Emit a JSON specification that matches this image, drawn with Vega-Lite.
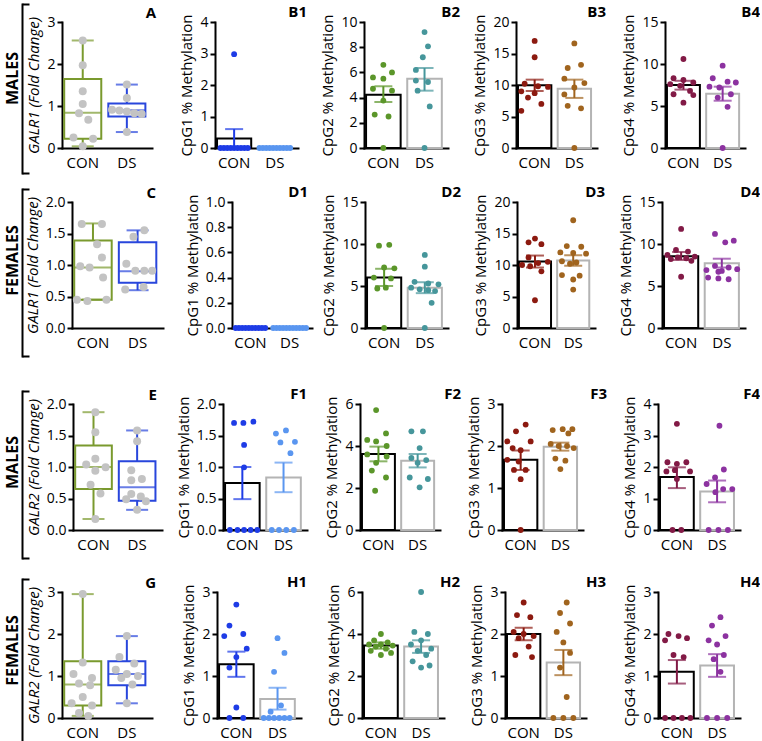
{
"$schema":"https://vega.github.io/schema/vega-lite/v6.json",
"background":"white",
"padding":{"left":4,"top":3,"right":0,"bottom":0},
"config":{
 "view":{"stroke":null},
 "font":"Open Sans",
 "axis":{"domainColor":"#000","domainWidth":2,"domainCap":"square","tickColor":"#000","tickWidth":2,"tickSize":5,"labelFontSize":14,"labelColor":"#000","labelPadding":2,"titleFontSize":15,"titleFontWeight":"normal","titleColor":"#000","titlePadding":5,"grid":false,"labelFont":"Open Sans","titleFont":"Open Sans"},
 "axisX":{"ticks":false,"labelAngle":0,"labelPadding":7,"labelFontSize":15},
 "title":{"fontSize":15,"fontWeight":"bold","anchor":"end","frame":"group","color":"#000","offset":-6,"font":"Open Sans"}
},
"datasets":{
"sm":[
{"p":"B1","g":"CON","m":0.3,"lo":0,"hi":0.6},{"p":"B1","g":"DS","m":0,"lo":0,"hi":0},
{"p":"B2","g":"CON","m":4.23,"lo":3.65,"hi":4.9},{"p":"B2","g":"DS","m":5.5,"lo":4.55,"hi":6.35},
{"p":"B3","g":"CON","m":9.95,"lo":9.05,"hi":10.85},{"p":"B3","g":"DS","m":9.4,"lo":7.95,"hi":10.85},
{"p":"B4","g":"CON","m":7.5,"lo":6.95,"hi":8.0},{"p":"B4","g":"DS","m":6.47,"lo":5.63,"hi":7.3},
{"p":"D1","g":"CON","m":0,"lo":0,"hi":0},{"p":"D1","g":"DS","m":0,"lo":0,"hi":0},
{"p":"D2","g":"CON","m":6.0,"lo":5.0,"hi":7.05},{"p":"D2","g":"DS","m":4.8,"lo":4.15,"hi":5.45},
{"p":"D3","g":"CON","m":10.55,"lo":9.6,"hi":11.5},{"p":"D3","g":"DS","m":10.7,"lo":9.9,"hi":11.55},
{"p":"D4","g":"CON","m":8.55,"lo":8.1,"hi":9.05},{"p":"D4","g":"DS","m":7.7,"lo":7.2,"hi":8.25},
{"p":"F1","g":"CON","m":0.745,"lo":0.49,"hi":1.0},{"p":"F1","g":"DS","m":0.835,"lo":0.6,"hi":1.07},
{"p":"F2","g":"CON","m":3.62,"lo":3.27,"hi":3.97},{"p":"F2","g":"DS","m":3.3,"lo":2.98,"hi":3.62},
{"p":"F3","g":"CON","m":1.67,"lo":1.43,"hi":1.89},{"p":"F3","g":"DS","m":1.98,"lo":1.89,"hi":2.08},
{"p":"F4","g":"CON","m":1.68,"lo":1.33,"hi":1.99},{"p":"F4","g":"DS","m":1.22,"lo":0.88,"hi":1.57},
{"p":"H1","g":"CON","m":1.28,"lo":0.98,"hi":1.58},{"p":"H1","g":"DS","m":0.45,"lo":0.2,"hi":0.72},
{"p":"H2","g":"CON","m":3.45,"lo":3.3,"hi":3.6},{"p":"H2","g":"DS","m":3.4,"lo":3.1,"hi":3.7},
{"p":"H3","g":"CON","m":2.0,"lo":1.85,"hi":2.15},{"p":"H3","g":"DS","m":1.32,"lo":1.02,"hi":1.62},
{"p":"H4","g":"CON","m":1.1,"lo":0.82,"hi":1.38},{"p":"H4","g":"DS","m":1.25,"lo":0.98,"hi":1.52}
],
"bx":[
{"p":"A","g":"CON","lo":0.04,"q1":0.22,"md":0.84,"q3":1.64,"hi":2.56},{"p":"A","g":"DS","lo":0.38,"q1":0.75,"md":0.9,"q3":1.06,"hi":1.51},
{"p":"C","g":"CON","lo":0.45,"q1":0.45,"md":0.96,"q3":1.39,"hi":1.66},{"p":"C","g":"DS","lo":0.6,"q1":0.72,"md":0.9,"q3":1.36,"hi":1.55},
{"p":"E","g":"CON","lo":0.175,"q1":0.65,"md":1.0,"q3":1.34,"hi":1.87},{"p":"E","g":"DS","lo":0.32,"q1":0.465,"md":0.68,"q3":1.09,"hi":1.58},
{"p":"G","g":"CON","lo":0.05,"q1":0.3,"md":0.8,"q3":1.35,"hi":2.95},{"p":"G","g":"DS","lo":0.35,"q1":0.78,"md":1.05,"q3":1.35,"hi":1.95}
],
"pts":[
{"p":"A","g":"CON","v":2.56,"k":0},{"p":"A","g":"CON","v":1.97,"k":0},{"p":"A","g":"CON","v":1.35,"k":0},{"p":"A","g":"CON","v":1.05,"k":0},{"p":"A","g":"CON","v":0.83,"k":-1},{"p":"A","g":"CON","v":0.67,"k":1.5},{"p":"A","g":"CON","v":0.25,"k":-2.5},{"p":"A","g":"CON","v":0.22,"k":2.8},{"p":"A","g":"CON","v":0.04,"k":0},
{"p":"A","g":"DS","v":1.51,"k":0},{"p":"A","g":"DS","v":1.19,"k":0},{"p":"A","g":"DS","v":0.91,"k":-4},{"p":"A","g":"DS","v":0.89,"k":-2},{"p":"A","g":"DS","v":0.87,"k":0},{"p":"A","g":"DS","v":0.83,"k":2},{"p":"A","g":"DS","v":0.81,"k":4},{"p":"A","g":"DS","v":0.38,"k":0},
{"p":"B1","g":"CON","v":2.98,"k":0},{"p":"B1","g":"CON","v":0,"k":-4},{"p":"B1","g":"CON","v":0,"k":-3},{"p":"B1","g":"CON","v":0,"k":-2},{"p":"B1","g":"CON","v":0,"k":-1},{"p":"B1","g":"CON","v":0,"k":0},{"p":"B1","g":"CON","v":0,"k":1},{"p":"B1","g":"CON","v":0,"k":2},{"p":"B1","g":"CON","v":0,"k":3},{"p":"B1","g":"CON","v":0,"k":4},
{"p":"B1","g":"DS","v":0,"k":-4.5},{"p":"B1","g":"DS","v":0,"k":-3.5},{"p":"B1","g":"DS","v":0,"k":-2.5},{"p":"B1","g":"DS","v":0,"k":-1.5},{"p":"B1","g":"DS","v":0,"k":-0.5},{"p":"B1","g":"DS","v":0,"k":0.5},{"p":"B1","g":"DS","v":0,"k":1.5},{"p":"B1","g":"DS","v":0,"k":2.5},{"p":"B1","g":"DS","v":0,"k":3.5},{"p":"B1","g":"DS","v":0,"k":4.5},
{"p":"B2","g":"CON","v":6.6,"k":0},{"p":"B2","g":"CON","v":5.6,"k":-3},{"p":"B2","g":"CON","v":6.0,"k":2.5},{"p":"B2","g":"CON","v":5.5,"k":0},{"p":"B2","g":"CON","v":4.7,"k":-3},{"p":"B2","g":"CON","v":4.55,"k":2.5},{"p":"B2","g":"CON","v":3.76,"k":0},{"p":"B2","g":"CON","v":2.65,"k":-2.5},{"p":"B2","g":"CON","v":2.5,"k":1.5},{"p":"B2","g":"CON","v":0,"k":0},
{"p":"B2","g":"DS","v":9.2,"k":0},{"p":"B2","g":"DS","v":8.07,"k":1},{"p":"B2","g":"DS","v":7.2,"k":-0.5},{"p":"B2","g":"DS","v":6.2,"k":-2.5},{"p":"B2","g":"DS","v":5.35,"k":-2.5},{"p":"B2","g":"DS","v":5.24,"k":1},{"p":"B2","g":"DS","v":4.55,"k":-2},{"p":"B2","g":"DS","v":3.3,"k":1.5},{"p":"B2","g":"DS","v":0,"k":0},
{"p":"B3","g":"CON","v":17.0,"k":0},{"p":"B3","g":"CON","v":14.4,"k":0},{"p":"B3","g":"CON","v":10.2,"k":-3},{"p":"B3","g":"CON","v":9.8,"k":1},{"p":"B3","g":"CON","v":9.7,"k":4},{"p":"B3","g":"CON","v":9.0,"k":-4},{"p":"B3","g":"CON","v":8.7,"k":0},{"p":"B3","g":"CON","v":8.0,"k":-2},{"p":"B3","g":"CON","v":7.0,"k":2},{"p":"B3","g":"CON","v":5.9,"k":-4},
{"p":"B3","g":"DS","v":16.6,"k":0},{"p":"B3","g":"DS","v":13.2,"k":2},{"p":"B3","g":"DS","v":12.7,"k":-2},{"p":"B3","g":"DS","v":11.0,"k":-3},{"p":"B3","g":"DS","v":10.3,"k":3},{"p":"B3","g":"DS","v":9.6,"k":0},{"p":"B3","g":"DS","v":8.5,"k":-3},{"p":"B3","g":"DS","v":6.7,"k":-2},{"p":"B3","g":"DS","v":6.3,"k":2},{"p":"B3","g":"DS","v":0,"k":0},
{"p":"B4","g":"CON","v":10.6,"k":0},{"p":"B4","g":"CON","v":8.3,"k":-3},{"p":"B4","g":"CON","v":8.1,"k":0},{"p":"B4","g":"CON","v":7.8,"k":3},{"p":"B4","g":"CON","v":7.6,"k":-4},{"p":"B4","g":"CON","v":7.4,"k":-1},{"p":"B4","g":"CON","v":6.8,"k":2},{"p":"B4","g":"CON","v":6.4,"k":-3},{"p":"B4","g":"CON","v":6.3,"k":3},{"p":"B4","g":"CON","v":5.4,"k":0},
{"p":"B4","g":"DS","v":9.8,"k":0},{"p":"B4","g":"DS","v":8.3,"k":-3},{"p":"B4","g":"DS","v":7.9,"k":1.5},{"p":"B4","g":"DS","v":7.8,"k":4},{"p":"B4","g":"DS","v":7.3,"k":-4},{"p":"B4","g":"DS","v":7.2,"k":-1},{"p":"B4","g":"DS","v":6.4,"k":2.5},{"p":"B4","g":"DS","v":6.0,"k":-1.5},{"p":"B4","g":"DS","v":4.9,"k":1.5},{"p":"B4","g":"DS","v":0,"k":0},
{"p":"C","g":"CON","v":1.65,"k":-3},{"p":"C","g":"CON","v":1.65,"k":2.4},{"p":"C","g":"CON","v":1.33,"k":1.1},{"p":"C","g":"CON","v":1.12,"k":2.4},{"p":"C","g":"CON","v":0.98,"k":-3.4},{"p":"C","g":"CON","v":0.96,"k":-0.9},{"p":"C","g":"CON","v":0.8,"k":2.7},{"p":"C","g":"CON","v":0.45,"k":-4.3},{"p":"C","g":"CON","v":0.43,"k":-1.5},{"p":"C","g":"CON","v":0.45,"k":3.6},
{"p":"C","g":"DS","v":1.55,"k":1.8},{"p":"C","g":"DS","v":1.45,"k":-1.1},{"p":"C","g":"DS","v":1.02,"k":-3},{"p":"C","g":"DS","v":0.91,"k":-0.6},{"p":"C","g":"DS","v":0.91,"k":1.8},{"p":"C","g":"DS","v":0.91,"k":3.9},{"p":"C","g":"DS","v":0.61,"k":-3.3},{"p":"C","g":"DS","v":0.65,"k":1.6},
{"p":"D1","g":"CON","v":0,"k":-4.5},{"p":"D1","g":"CON","v":0,"k":-3.5},{"p":"D1","g":"CON","v":0,"k":-2.5},{"p":"D1","g":"CON","v":0,"k":-1.5},{"p":"D1","g":"CON","v":0,"k":-0.5},{"p":"D1","g":"CON","v":0,"k":0.5},{"p":"D1","g":"CON","v":0,"k":1.5},{"p":"D1","g":"CON","v":0,"k":2.5},{"p":"D1","g":"CON","v":0,"k":3.5},{"p":"D1","g":"CON","v":0,"k":4.5},
{"p":"D1","g":"DS","v":0,"k":-5},{"p":"D1","g":"DS","v":0,"k":-4},{"p":"D1","g":"DS","v":0,"k":-3},{"p":"D1","g":"DS","v":0,"k":-2},{"p":"D1","g":"DS","v":0,"k":-1},{"p":"D1","g":"DS","v":0,"k":0},{"p":"D1","g":"DS","v":0,"k":1},{"p":"D1","g":"DS","v":0,"k":2},{"p":"D1","g":"DS","v":0,"k":3},{"p":"D1","g":"DS","v":0,"k":4},{"p":"D1","g":"DS","v":0,"k":5},
{"p":"D2","g":"CON","v":9.9,"k":1.5},{"p":"D2","g":"CON","v":9.8,"k":-1.5},{"p":"D2","g":"CON","v":7.2,"k":0},{"p":"D2","g":"CON","v":7.1,"k":3},{"p":"D2","g":"CON","v":6.0,"k":-3},{"p":"D2","g":"CON","v":5.9,"k":2},{"p":"D2","g":"CON","v":4.7,"k":-2},{"p":"D2","g":"CON","v":4.8,"k":0.5},{"p":"D2","g":"CON","v":0,"k":0},
{"p":"D2","g":"DS","v":8.7,"k":0},{"p":"D2","g":"DS","v":7.3,"k":0},{"p":"D2","g":"DS","v":5.5,"k":-3},{"p":"D2","g":"DS","v":5.3,"k":1},{"p":"D2","g":"DS","v":5.2,"k":4},{"p":"D2","g":"DS","v":4.8,"k":-4},{"p":"D2","g":"DS","v":4.6,"k":-1.5},{"p":"D2","g":"DS","v":4.5,"k":1},{"p":"D2","g":"DS","v":4.4,"k":3},{"p":"D2","g":"DS","v":3.0,"k":2},{"p":"D2","g":"DS","v":0,"k":0},
{"p":"D3","g":"CON","v":14.2,"k":0},{"p":"D3","g":"CON","v":13.6,"k":-2},{"p":"D3","g":"CON","v":13.3,"k":2},{"p":"D3","g":"CON","v":11.2,"k":-2},{"p":"D3","g":"CON","v":10.5,"k":4},{"p":"D3","g":"CON","v":10.3,"k":1},{"p":"D3","g":"CON","v":10.0,"k":-4},{"p":"D3","g":"CON","v":9.8,"k":-1.5},{"p":"D3","g":"CON","v":9.0,"k":2},{"p":"D3","g":"CON","v":4.4,"k":0},
{"p":"D3","g":"DS","v":17.1,"k":0},{"p":"D3","g":"DS","v":13.0,"k":-2},{"p":"D3","g":"DS","v":12.9,"k":2.5},{"p":"D3","g":"DS","v":12.0,"k":-4},{"p":"D3","g":"DS","v":11.9,"k":0},{"p":"D3","g":"DS","v":11.8,"k":4},{"p":"D3","g":"DS","v":10.6,"k":-3.5},{"p":"D3","g":"DS","v":10.4,"k":1},{"p":"D3","g":"DS","v":10.2,"k":-1},{"p":"D3","g":"DS","v":8.4,"k":-3.5},{"p":"D3","g":"DS","v":8.3,"k":2},{"p":"D3","g":"DS","v":7.7,"k":0},{"p":"D3","g":"DS","v":6.1,"k":0},
{"p":"D4","g":"CON","v":11.8,"k":0},{"p":"D4","g":"CON","v":9.3,"k":-1.5},{"p":"D4","g":"CON","v":9.1,"k":2},{"p":"D4","g":"CON","v":8.7,"k":-4},{"p":"D4","g":"CON","v":8.5,"k":4},{"p":"D4","g":"CON","v":8.4,"k":-1},{"p":"D4","g":"CON","v":8.3,"k":1.5},{"p":"D4","g":"CON","v":8.2,"k":-3},{"p":"D4","g":"CON","v":8.0,"k":3},{"p":"D4","g":"CON","v":6.1,"k":0},
{"p":"D4","g":"DS","v":11.2,"k":-2},{"p":"D4","g":"DS","v":10.2,"k":1},{"p":"D4","g":"DS","v":10.4,"k":3.5},{"p":"D4","g":"DS","v":7.4,"k":-2},{"p":"D4","g":"DS","v":7.2,"k":2},{"p":"D4","g":"DS","v":7.0,"k":4.5},{"p":"D4","g":"DS","v":6.9,"k":-4.5},{"p":"D4","g":"DS","v":6.8,"k":0},{"p":"D4","g":"DS","v":6.7,"k":-1},{"p":"D4","g":"DS","v":6.0,"k":-4},{"p":"D4","g":"DS","v":5.9,"k":-1},{"p":"D4","g":"DS","v":5.8,"k":2},
{"p":"E","g":"CON","v":1.87,"k":0.5},{"p":"E","g":"CON","v":1.55,"k":0.5},{"p":"E","g":"CON","v":1.13,"k":0.5},{"p":"E","g":"CON","v":1.04,"k":-2},{"p":"E","g":"CON","v":0.995,"k":3.3},{"p":"E","g":"CON","v":0.94,"k":0.5},{"p":"E","g":"CON","v":0.72,"k":-0.8},{"p":"E","g":"CON","v":0.58,"k":1.9},{"p":"E","g":"CON","v":0.175,"k":0.5},
{"p":"E","g":"DS","v":1.58,"k":0},{"p":"E","g":"DS","v":1.41,"k":0},{"p":"E","g":"DS","v":0.95,"k":-1.6},{"p":"E","g":"DS","v":0.81,"k":1.3},{"p":"E","g":"DS","v":0.79,"k":-1.6},{"p":"E","g":"DS","v":0.57,"k":-1.6},{"p":"E","g":"DS","v":0.53,"k":1},{"p":"E","g":"DS","v":0.49,"k":-3},{"p":"E","g":"DS","v":0.455,"k":2.4},{"p":"E","g":"DS","v":0.32,"k":0},
{"p":"F1","g":"CON","v":1.7,"k":-2.4},{"p":"F1","g":"CON","v":1.7,"k":0.3},{"p":"F1","g":"CON","v":1.72,"k":3.2},{"p":"F1","g":"CON","v":1.35,"k":0.5},{"p":"F1","g":"CON","v":0.995,"k":0.5},{"p":"F1","g":"CON","v":0,"k":-3.6},{"p":"F1","g":"CON","v":0,"k":-1.4},{"p":"F1","g":"CON","v":0,"k":0.5},{"p":"F1","g":"CON","v":0,"k":2.4},{"p":"F1","g":"CON","v":0,"k":4.3},
{"p":"F1","g":"DS","v":1.53,"k":-2.2},{"p":"F1","g":"DS","v":1.58,"k":0.7},{"p":"F1","g":"DS","v":1.39,"k":-0.9},{"p":"F1","g":"DS","v":1.4,"k":3.3},{"p":"F1","g":"DS","v":1.22,"k":2},{"p":"F1","g":"DS","v":0,"k":-3.4},{"p":"F1","g":"DS","v":0,"k":-1.3},{"p":"F1","g":"DS","v":0,"k":0.8},{"p":"F1","g":"DS","v":0,"k":3},
{"p":"F2","g":"CON","v":5.71,"k":-0.7},{"p":"F2","g":"CON","v":4.6,"k":2.3},{"p":"F2","g":"CON","v":4.29,"k":-3.4},{"p":"F2","g":"CON","v":4.22,"k":-0.7},{"p":"F2","g":"CON","v":4.0,"k":2.5},{"p":"F2","g":"CON","v":3.6,"k":-3.4},{"p":"F2","g":"CON","v":3.5,"k":2.5},{"p":"F2","g":"CON","v":3.2,"k":-0.7},{"p":"F2","g":"CON","v":2.83,"k":-2},{"p":"F2","g":"CON","v":2.5,"k":2.3},{"p":"F2","g":"CON","v":1.87,"k":-1},
{"p":"F2","g":"DS","v":4.7,"k":-1.9},{"p":"F2","g":"DS","v":4.7,"k":1.6},{"p":"F2","g":"DS","v":3.9,"k":0.6},{"p":"F2","g":"DS","v":3.43,"k":-1.9},{"p":"F2","g":"DS","v":3.33,"k":2.6},{"p":"F2","g":"DS","v":3.2,"k":0},{"p":"F2","g":"DS","v":2.5,"k":-2.4},{"p":"F2","g":"DS","v":2.43,"k":3.1},{"p":"F2","g":"DS","v":2.03,"k":0.6},
{"p":"F3","g":"CON","v":2.51,"k":1.5},{"p":"F3","g":"CON","v":2.35,"k":-1.4},{"p":"F3","g":"CON","v":2.11,"k":-4},{"p":"F3","g":"CON","v":2.11,"k":3},{"p":"F3","g":"CON","v":1.95,"k":-2.4},{"p":"F3","g":"CON","v":1.9,"k":0},{"p":"F3","g":"CON","v":1.67,"k":-4},{"p":"F3","g":"CON","v":1.63,"k":-0.6},{"p":"F3","g":"CON","v":1.43,"k":1.5},{"p":"F3","g":"CON","v":1.43,"k":-2},{"p":"F3","g":"CON","v":1.21,"k":0},{"p":"F3","g":"CON","v":0,"k":0},
{"p":"F3","g":"DS","v":2.38,"k":-2.3},{"p":"F3","g":"DS","v":2.4,"k":0.7},{"p":"F3","g":"DS","v":2.4,"k":3.6},{"p":"F3","g":"DS","v":2.3,"k":2.4},{"p":"F3","g":"DS","v":2.05,"k":-2.9},{"p":"F3","g":"DS","v":2.0,"k":-0.5},{"p":"F3","g":"DS","v":2.0,"k":2},{"p":"F3","g":"DS","v":1.95,"k":4},{"p":"F3","g":"DS","v":1.7,"k":-1.5},{"p":"F3","g":"DS","v":1.65,"k":1.5},{"p":"F3","g":"DS","v":1.45,"k":0},
{"p":"F4","g":"CON","v":3.37,"k":0},{"p":"F4","g":"CON","v":2.15,"k":-2.8},{"p":"F4","g":"CON","v":2.1,"k":0},{"p":"F4","g":"CON","v":2.15,"k":2.8},{"p":"F4","g":"CON","v":1.86,"k":-3.1},{"p":"F4","g":"CON","v":1.9,"k":-0.6},{"p":"F4","g":"CON","v":1.86,"k":3.9},{"p":"F4","g":"CON","v":1.62,"k":0},{"p":"F4","g":"CON","v":0,"k":-1.3},{"p":"F4","g":"CON","v":0,"k":1.3},
{"p":"F4","g":"DS","v":3.31,"k":0.7},{"p":"F4","g":"DS","v":1.92,"k":2},{"p":"F4","g":"DS","v":1.67,"k":-0.6},{"p":"F4","g":"DS","v":1.46,"k":-3.1},{"p":"F4","g":"DS","v":1.3,"k":1.8},{"p":"F4","g":"DS","v":1.3,"k":4.5},{"p":"F4","g":"DS","v":1.2,"k":-0.5},{"p":"F4","g":"DS","v":0,"k":-2.5},{"p":"F4","g":"DS","v":0,"k":0.4},{"p":"F4","g":"DS","v":0,"k":3.2},
{"p":"G","g":"CON","v":2.95,"k":0},{"p":"G","g":"CON","v":1.32,"k":0},{"p":"G","g":"CON","v":1.05,"k":-2.5},{"p":"G","g":"CON","v":0.95,"k":2.5},{"p":"G","g":"CON","v":0.82,"k":-1},{"p":"G","g":"CON","v":0.78,"k":2},{"p":"G","g":"CON","v":0.5,"k":0},{"p":"G","g":"CON","v":0.35,"k":-3},{"p":"G","g":"CON","v":0.3,"k":2.5},{"p":"G","g":"CON","v":0.12,"k":-1},{"p":"G","g":"CON","v":0.05,"k":1.5},
{"p":"G","g":"DS","v":1.95,"k":0},{"p":"G","g":"DS","v":1.45,"k":-2},{"p":"G","g":"DS","v":1.3,"k":2},{"p":"G","g":"DS","v":1.15,"k":-3},{"p":"G","g":"DS","v":1.05,"k":0},{"p":"G","g":"DS","v":1.0,"k":3},{"p":"G","g":"DS","v":0.95,"k":-1.5},{"p":"G","g":"DS","v":0.8,"k":1.5},{"p":"G","g":"DS","v":0.35,"k":0},
{"p":"H1","g":"CON","v":2.7,"k":0},{"p":"H1","g":"CON","v":2.2,"k":-2},{"p":"H1","g":"CON","v":2.0,"k":2},{"p":"H1","g":"CON","v":1.95,"k":-3.5},{"p":"H1","g":"CON","v":1.65,"k":3},{"p":"H1","g":"CON","v":1.45,"k":0},{"p":"H1","g":"CON","v":1.2,"k":-2},{"p":"H1","g":"CON","v":0.25,"k":0},{"p":"H1","g":"CON","v":0,"k":-2},{"p":"H1","g":"CON","v":0,"k":2},
{"p":"H1","g":"DS","v":1.9,"k":0},{"p":"H1","g":"DS","v":1.55,"k":2},{"p":"H1","g":"DS","v":1.1,"k":-1},{"p":"H1","g":"DS","v":0.3,"k":1},{"p":"H1","g":"DS","v":0.15,"k":-2},{"p":"H1","g":"DS","v":0,"k":-4},{"p":"H1","g":"DS","v":0,"k":-2.5},{"p":"H1","g":"DS","v":0,"k":-1},{"p":"H1","g":"DS","v":0,"k":0.5},{"p":"H1","g":"DS","v":0,"k":2},{"p":"H1","g":"DS","v":0,"k":3.5},
{"p":"H2","g":"CON","v":4.0,"k":0},{"p":"H2","g":"CON","v":3.7,"k":-2},{"p":"H2","g":"CON","v":3.6,"k":2},{"p":"H2","g":"CON","v":3.5,"k":-3.5},{"p":"H2","g":"CON","v":3.5,"k":0},{"p":"H2","g":"CON","v":3.45,"k":3.5},{"p":"H2","g":"CON","v":3.4,"k":-1.5},{"p":"H2","g":"CON","v":3.3,"k":1.5},{"p":"H2","g":"CON","v":3.2,"k":-3},{"p":"H2","g":"CON","v":3.1,"k":3},{"p":"H2","g":"CON","v":3.0,"k":0},
{"p":"H2","g":"DS","v":6.0,"k":0},{"p":"H2","g":"DS","v":4.1,"k":-2},{"p":"H2","g":"DS","v":4.0,"k":2},{"p":"H2","g":"DS","v":3.7,"k":0},{"p":"H2","g":"DS","v":3.5,"k":-3},{"p":"H2","g":"DS","v":3.3,"k":3},{"p":"H2","g":"DS","v":3.2,"k":-1},{"p":"H2","g":"DS","v":3.0,"k":1.5},{"p":"H2","g":"DS","v":2.7,"k":-2.5},{"p":"H2","g":"DS","v":2.5,"k":2.5},{"p":"H2","g":"DS","v":2.4,"k":0},
{"p":"H3","g":"CON","v":2.75,"k":0},{"p":"H3","g":"CON","v":2.45,"k":-2},{"p":"H3","g":"CON","v":2.4,"k":2},{"p":"H3","g":"CON","v":2.05,"k":-3},{"p":"H3","g":"CON","v":2.0,"k":0},{"p":"H3","g":"CON","v":1.95,"k":3},{"p":"H3","g":"CON","v":1.9,"k":-1.5},{"p":"H3","g":"CON","v":1.7,"k":1.5},{"p":"H3","g":"CON","v":1.5,"k":-2.5},{"p":"H3","g":"CON","v":1.45,"k":2.5},
{"p":"H3","g":"DS","v":2.75,"k":1},{"p":"H3","g":"DS","v":2.5,"k":-1},{"p":"H3","g":"DS","v":2.25,"k":2},{"p":"H3","g":"DS","v":2.05,"k":-2},{"p":"H3","g":"DS","v":1.8,"k":0},{"p":"H3","g":"DS","v":1.55,"k":2},{"p":"H3","g":"DS","v":1.2,"k":-1},{"p":"H3","g":"DS","v":0.5,"k":1},{"p":"H3","g":"DS","v":0,"k":-3},{"p":"H3","g":"DS","v":0,"k":0},{"p":"H3","g":"DS","v":0,"k":3},
{"p":"H4","g":"CON","v":2.0,"k":-2.5},{"p":"H4","g":"CON","v":1.95,"k":0.5},{"p":"H4","g":"CON","v":1.9,"k":3},{"p":"H4","g":"CON","v":1.85,"k":-3.5},{"p":"H4","g":"CON","v":1.5,"k":-1},{"p":"H4","g":"CON","v":1.45,"k":2},{"p":"H4","g":"CON","v":0,"k":-3.5},{"p":"H4","g":"CON","v":0,"k":-1},{"p":"H4","g":"CON","v":0,"k":1.5},{"p":"H4","g":"CON","v":0,"k":4},
{"p":"H4","g":"DS","v":2.4,"k":1},{"p":"H4","g":"DS","v":2.2,"k":-1.5},{"p":"H4","g":"DS","v":1.95,"k":2.5},{"p":"H4","g":"DS","v":1.85,"k":-2.5},{"p":"H4","g":"DS","v":1.75,"k":0},{"p":"H4","g":"DS","v":1.5,"k":2},{"p":"H4","g":"DS","v":1.4,"k":-1},{"p":"H4","g":"DS","v":1.1,"k":1},{"p":"H4","g":"DS","v":0,"k":-3},{"p":"H4","g":"DS","v":0,"k":0},{"p":"H4","g":"DS","v":0,"k":3}
]
},
"resolve":{"scale":{"xOffset":"independent"}},
"spacing":18,
"vconcat":[
{"spacing":-6,"resolve":{"scale":{"xOffset":"independent"}},"vconcat":[
{"hconcat":[
{"width":40,"height":126,"data":{"values":[{"r":0}]},"mark":{"type":"point","opacity":0},"encoding":{"y":{"field":"r","type":"quantitative","scale":{"domain":[0,1],"range":[151,-18]},"axis":{"values":[0,1],"labels":false,"tickSize":-7,"title":"MALES","titleFontSize":16,"titleFontWeight":"bold","titleX":-10,"titleY":56,"titleAngle":-90,"titleAlign":"center","titleBaseline":"middle"}}}},
{"width":90,"height":126,"title":{"text":"A","dx":4},"resolve":{"scale":{"xOffset":"independent"}},"encoding":{"x":{"field":"g","type":"nominal","title":null,"scale":{"domain":["CON","DS"],"paddingInner":0.16,"paddingOuter":0.1,"align":0.25}}},"layer":[
 {"data":{"name":"bx"},"transform":[{"filter":"datum.p=='A'"}],"layer":[
  {"mark":{"type":"rule","strokeWidth":2},"encoding":{"y":{"field":"lo","type":"quantitative","scale":{"domain":[0,3],"nice":false},"axis":{"values":[0,1,2,3],"title":"GALR1 (Fold Change)","titleFontStyle":"italic"}},"y2":{"field":"hi"},"color":{"condition":{"test":"datum.g=='CON'","value":"#7a9a2e"},"value":"#2846dc"}}},
  {"mark":{"type":"bar","fill":"white","strokeWidth":2},"encoding":{"y":{"field":"q1","type":"quantitative","scale":{"domain":[0,3],"nice":false},"axis":{"values":[0,1,2,3],"title":"GALR1 (Fold Change)","titleFontStyle":"italic"}},"y2":{"field":"q3"},"stroke":{"condition":{"test":"datum.g=='CON'","value":"#7a9a2e"},"value":"#2846dc"}}},
  {"mark":{"type":"tick","thickness":2,"size":37},"encoding":{"y":{"field":"md","type":"quantitative","scale":{"domain":[0,3],"nice":false},"axis":{"values":[0,1,2,3],"title":"GALR1 (Fold Change)","titleFontStyle":"italic"}},"color":{"condition":{"test":"datum.g=='CON'","value":"#7a9a2e"},"value":"#2846dc"}}},
  {"mark":{"type":"tick","thickness":2,"size":22},"encoding":{"y":{"field":"hi","type":"quantitative","scale":{"domain":[0,3],"nice":false},"axis":{"values":[0,1,2,3],"title":"GALR1 (Fold Change)","titleFontStyle":"italic"}},"color":{"condition":{"test":"datum.g=='CON'","value":"#7a9a2e"},"value":"#2846dc"}}},
  {"mark":{"type":"tick","thickness":2,"size":22},"encoding":{"y":{"field":"lo","type":"quantitative","scale":{"domain":[0,3],"nice":false},"axis":{"values":[0,1,2,3],"title":"GALR1 (Fold Change)","titleFontStyle":"italic"}},"color":{"condition":{"test":"datum.g=='CON'","value":"#7a9a2e"},"value":"#2846dc"}}}
 ]},
 {"data":{"name":"pts"},"transform":[{"filter":"datum.p=='A'"}],"mark":{"type":"circle","size":64,"opacity":1,"color":"#c3c3c3","clip":false},"encoding":{"xOffset":{"field":"k","type":"quantitative","scale":{"domain":[-5,5],"nice":false}},"y":{"field":"v","type":"quantitative","scale":{"domain":[0,3],"nice":false},"axis":{"values":[0,1,2,3],"title":"GALR1 (Fold Change)","titleFontStyle":"italic"}}}}
]},
{"width":63,"height":126,"data":{"values":[]},"mark":"point"},
{"width":83,"height":126,"title":{"text":"B1","dx":9},"resolve":{"scale":{"xOffset":"independent"}},"encoding":{"x":{"field":"g","type":"nominal","title":null,"scale":{"domain":["CON","DS"],"paddingInner":0.16,"paddingOuter":0.1,"align":0.25}}},"layer":[
 {"data":{"name":"sm"},"transform":[{"filter":"datum.p=='B1'"}],"layer":[
  {"mark":{"type":"bar","fill":"white","strokeWidth":2},"encoding":{"y":{"field":"m","type":"quantitative","scale":{"domain":[0,4],"nice":false},"axis":{"values":[0,1,2,3,4],"title":"CpG1 % Methylation"}},"stroke":{"condition":{"test":"datum.g=='CON'","value":"#000000"},"value":"#b4b4b4"}}},
  {"mark":{"type":"rule","strokeWidth":2},"encoding":{"y":{"field":"lo","type":"quantitative","scale":{"domain":[0,4],"nice":false},"axis":{"values":[0,1,2,3,4],"title":"CpG1 % Methylation"}},"y2":{"field":"hi"},"color":{"condition":{"test":"datum.g=='CON'","value":"#1e3ce6"},"value":"#5a96f0"}}},
  {"mark":{"type":"tick","thickness":2,"size":18},"encoding":{"y":{"field":"hi","type":"quantitative","scale":{"domain":[0,4],"nice":false},"axis":{"values":[0,1,2,3,4],"title":"CpG1 % Methylation"}},"color":{"condition":{"test":"datum.g=='CON'","value":"#1e3ce6"},"value":"#5a96f0"}}},
  {"mark":{"type":"tick","thickness":2,"size":18},"encoding":{"y":{"field":"lo","type":"quantitative","scale":{"domain":[0,4],"nice":false},"axis":{"values":[0,1,2,3,4],"title":"CpG1 % Methylation"}},"color":{"condition":{"test":"datum.g=='CON'","value":"#1e3ce6"},"value":"#5a96f0"}}}
 ]},
 {"data":{"name":"pts"},"transform":[{"filter":"datum.p=='B1'"}],"mark":{"type":"circle","size":34,"opacity":1,"clip":false},"encoding":{"xOffset":{"field":"k","type":"quantitative","scale":{"domain":[-5,5],"nice":false}},"y":{"field":"v","type":"quantitative","scale":{"domain":[0,4],"nice":false},"axis":{"values":[0,1,2,3,4],"title":"CpG1 % Methylation"}},"color":{"condition":{"test":"datum.g=='CON'","value":"#1e3ce6"},"value":"#5a96f0"}}}
]},
{"width":66,"height":126,"data":{"values":[]},"mark":"point"},
{"width":84,"height":126,"title":{"text":"B2","dx":12},"resolve":{"scale":{"xOffset":"independent"}},"encoding":{"x":{"field":"g","type":"nominal","title":null,"scale":{"domain":["CON","DS"],"paddingInner":0.16,"paddingOuter":0.1,"align":0.25}}},"layer":[
 {"data":{"name":"sm"},"transform":[{"filter":"datum.p=='B2'"}],"layer":[
  {"mark":{"type":"bar","fill":"white","strokeWidth":2},"encoding":{"y":{"field":"m","type":"quantitative","scale":{"domain":[0,10],"nice":false},"axis":{"values":[0,2,4,6,8,10],"title":"CpG2 % Methylation"}},"stroke":{"condition":{"test":"datum.g=='CON'","value":"#000000"},"value":"#b4b4b4"}}},
  {"mark":{"type":"rule","strokeWidth":2},"encoding":{"y":{"field":"lo","type":"quantitative","scale":{"domain":[0,10],"nice":false},"axis":{"values":[0,2,4,6,8,10],"title":"CpG2 % Methylation"}},"y2":{"field":"hi"},"color":{"condition":{"test":"datum.g=='CON'","value":"#5b962a"},"value":"#46969b"}}},
  {"mark":{"type":"tick","thickness":2,"size":18},"encoding":{"y":{"field":"hi","type":"quantitative","scale":{"domain":[0,10],"nice":false},"axis":{"values":[0,2,4,6,8,10],"title":"CpG2 % Methylation"}},"color":{"condition":{"test":"datum.g=='CON'","value":"#5b962a"},"value":"#46969b"}}},
  {"mark":{"type":"tick","thickness":2,"size":18},"encoding":{"y":{"field":"lo","type":"quantitative","scale":{"domain":[0,10],"nice":false},"axis":{"values":[0,2,4,6,8,10],"title":"CpG2 % Methylation"}},"color":{"condition":{"test":"datum.g=='CON'","value":"#5b962a"},"value":"#46969b"}}}
 ]},
 {"data":{"name":"pts"},"transform":[{"filter":"datum.p=='B2'"}],"mark":{"type":"circle","size":34,"opacity":1,"clip":false},"encoding":{"xOffset":{"field":"k","type":"quantitative","scale":{"domain":[-5,5],"nice":false}},"y":{"field":"v","type":"quantitative","scale":{"domain":[0,10],"nice":false},"axis":{"values":[0,2,4,6,8,10],"title":"CpG2 % Methylation"}},"color":{"condition":{"test":"datum.g=='CON'","value":"#5b962a"},"value":"#46969b"}}}
]},
{"width":68,"height":126,"data":{"values":[]},"mark":"point"},
{"width":81,"height":126,"title":{"text":"B3","dx":9},"resolve":{"scale":{"xOffset":"independent"}},"encoding":{"x":{"field":"g","type":"nominal","title":null,"scale":{"domain":["CON","DS"],"paddingInner":0.16,"paddingOuter":0.1,"align":0.25}}},"layer":[
 {"data":{"name":"sm"},"transform":[{"filter":"datum.p=='B3'"}],"layer":[
  {"mark":{"type":"bar","fill":"white","strokeWidth":2},"encoding":{"y":{"field":"m","type":"quantitative","scale":{"domain":[0,20],"nice":false},"axis":{"values":[0,5,10,15,20],"title":"CpG3 % Methylation"}},"stroke":{"condition":{"test":"datum.g=='CON'","value":"#000000"},"value":"#b4b4b4"}}},
  {"mark":{"type":"rule","strokeWidth":2},"encoding":{"y":{"field":"lo","type":"quantitative","scale":{"domain":[0,20],"nice":false},"axis":{"values":[0,5,10,15,20],"title":"CpG3 % Methylation"}},"y2":{"field":"hi"},"color":{"condition":{"test":"datum.g=='CON'","value":"#8c1a10"},"value":"#a0641e"}}},
  {"mark":{"type":"tick","thickness":2,"size":18},"encoding":{"y":{"field":"hi","type":"quantitative","scale":{"domain":[0,20],"nice":false},"axis":{"values":[0,5,10,15,20],"title":"CpG3 % Methylation"}},"color":{"condition":{"test":"datum.g=='CON'","value":"#8c1a10"},"value":"#a0641e"}}},
  {"mark":{"type":"tick","thickness":2,"size":18},"encoding":{"y":{"field":"lo","type":"quantitative","scale":{"domain":[0,20],"nice":false},"axis":{"values":[0,5,10,15,20],"title":"CpG3 % Methylation"}},"color":{"condition":{"test":"datum.g=='CON'","value":"#8c1a10"},"value":"#a0641e"}}}
 ]},
 {"data":{"name":"pts"},"transform":[{"filter":"datum.p=='B3'"}],"mark":{"type":"circle","size":34,"opacity":1,"clip":false},"encoding":{"xOffset":{"field":"k","type":"quantitative","scale":{"domain":[-5,5],"nice":false}},"y":{"field":"v","type":"quantitative","scale":{"domain":[0,20],"nice":false},"axis":{"values":[0,5,10,15,20],"title":"CpG3 % Methylation"}},"color":{"condition":{"test":"datum.g=='CON'","value":"#8c1a10"},"value":"#a0641e"}}}
]},
{"width":68,"height":126,"data":{"values":[]},"mark":"point"},
{"width":80,"height":126,"title":{"text":"B4","dx":15},"resolve":{"scale":{"xOffset":"independent"}},"encoding":{"x":{"field":"g","type":"nominal","title":null,"scale":{"domain":["CON","DS"],"paddingInner":0.16,"paddingOuter":0.1,"align":0.25}}},"layer":[
 {"data":{"name":"sm"},"transform":[{"filter":"datum.p=='B4'"}],"layer":[
  {"mark":{"type":"bar","fill":"white","strokeWidth":2},"encoding":{"y":{"field":"m","type":"quantitative","scale":{"domain":[0,15],"nice":false},"axis":{"values":[0,5,10,15],"title":"CpG4 % Methylation"}},"stroke":{"condition":{"test":"datum.g=='CON'","value":"#000000"},"value":"#b4b4b4"}}},
  {"mark":{"type":"rule","strokeWidth":2},"encoding":{"y":{"field":"lo","type":"quantitative","scale":{"domain":[0,15],"nice":false},"axis":{"values":[0,5,10,15],"title":"CpG4 % Methylation"}},"y2":{"field":"hi"},"color":{"condition":{"test":"datum.g=='CON'","value":"#821a46"},"value":"#8c32a0"}}},
  {"mark":{"type":"tick","thickness":2,"size":18},"encoding":{"y":{"field":"hi","type":"quantitative","scale":{"domain":[0,15],"nice":false},"axis":{"values":[0,5,10,15],"title":"CpG4 % Methylation"}},"color":{"condition":{"test":"datum.g=='CON'","value":"#821a46"},"value":"#8c32a0"}}},
  {"mark":{"type":"tick","thickness":2,"size":18},"encoding":{"y":{"field":"lo","type":"quantitative","scale":{"domain":[0,15],"nice":false},"axis":{"values":[0,5,10,15],"title":"CpG4 % Methylation"}},"color":{"condition":{"test":"datum.g=='CON'","value":"#821a46"},"value":"#8c32a0"}}}
 ]},
 {"data":{"name":"pts"},"transform":[{"filter":"datum.p=='B4'"}],"mark":{"type":"circle","size":34,"opacity":1,"clip":false},"encoding":{"xOffset":{"field":"k","type":"quantitative","scale":{"domain":[-5,5],"nice":false}},"y":{"field":"v","type":"quantitative","scale":{"domain":[0,15],"nice":false},"axis":{"values":[0,5,10,15],"title":"CpG4 % Methylation"}},"color":{"condition":{"test":"datum.g=='CON'","value":"#821a46"},"value":"#8c32a0"}}}
]}
],"spacing":0,"bounds":"flush","resolve":{"scale":{"xOffset":"independent"}}},
{"hconcat":[
{"width":50,"height":126,"data":{"values":[{"r":0}]},"mark":{"type":"point","opacity":0},"encoding":{"y":{"field":"r","type":"quantitative","scale":{"domain":[0,1],"range":[154,-13]},"axis":{"values":[0,1],"labels":false,"tickSize":-7,"title":"FEMALES","titleFontSize":16,"titleFontWeight":"bold","titleX":-10,"titleY":58,"titleAngle":-90,"titleAlign":"center","titleBaseline":"middle"}}}},
{"width":91,"height":126,"title":{"text":"C","dx":-7},"resolve":{"scale":{"xOffset":"independent"}},"encoding":{"x":{"field":"g","type":"nominal","title":null,"scale":{"domain":["CON","DS"],"paddingInner":0.16,"paddingOuter":0.1,"align":0.25}}},"layer":[
 {"data":{"name":"bx"},"transform":[{"filter":"datum.p=='C'"}],"layer":[
  {"mark":{"type":"rule","strokeWidth":2},"encoding":{"y":{"field":"lo","type":"quantitative","scale":{"domain":[0,2],"nice":false},"axis":{"values":[0,0.5,1,1.5,2],"format":".1f","title":"GALR1 (Fold Change)","titleFontStyle":"italic"}},"y2":{"field":"hi"},"color":{"condition":{"test":"datum.g=='CON'","value":"#7a9a2e"},"value":"#2846dc"}}},
  {"mark":{"type":"bar","fill":"white","strokeWidth":2},"encoding":{"y":{"field":"q1","type":"quantitative","scale":{"domain":[0,2],"nice":false},"axis":{"values":[0,0.5,1,1.5,2],"format":".1f","title":"GALR1 (Fold Change)","titleFontStyle":"italic"}},"y2":{"field":"q3"},"stroke":{"condition":{"test":"datum.g=='CON'","value":"#7a9a2e"},"value":"#2846dc"}}},
  {"mark":{"type":"tick","thickness":2,"size":37},"encoding":{"y":{"field":"md","type":"quantitative","scale":{"domain":[0,2],"nice":false},"axis":{"values":[0,0.5,1,1.5,2],"format":".1f","title":"GALR1 (Fold Change)","titleFontStyle":"italic"}},"color":{"condition":{"test":"datum.g=='CON'","value":"#7a9a2e"},"value":"#2846dc"}}},
  {"mark":{"type":"tick","thickness":2,"size":22},"encoding":{"y":{"field":"hi","type":"quantitative","scale":{"domain":[0,2],"nice":false},"axis":{"values":[0,0.5,1,1.5,2],"format":".1f","title":"GALR1 (Fold Change)","titleFontStyle":"italic"}},"color":{"condition":{"test":"datum.g=='CON'","value":"#7a9a2e"},"value":"#2846dc"}}},
  {"mark":{"type":"tick","thickness":2,"size":22},"encoding":{"y":{"field":"lo","type":"quantitative","scale":{"domain":[0,2],"nice":false},"axis":{"values":[0,0.5,1,1.5,2],"format":".1f","title":"GALR1 (Fold Change)","titleFontStyle":"italic"}},"color":{"condition":{"test":"datum.g=='CON'","value":"#7a9a2e"},"value":"#2846dc"}}}
 ]},
 {"data":{"name":"pts"},"transform":[{"filter":"datum.p=='C'"}],"mark":{"type":"circle","size":64,"opacity":1,"color":"#c3c3c3","clip":false},"encoding":{"xOffset":{"field":"k","type":"quantitative","scale":{"domain":[-5,5],"nice":false}},"y":{"field":"v","type":"quantitative","scale":{"domain":[0,2],"nice":false},"axis":{"values":[0,0.5,1,1.5,2],"format":".1f","title":"GALR1 (Fold Change)","titleFontStyle":"italic"}}}}
]},
{"width":69,"height":126,"data":{"values":[]},"mark":"point"},
{"width":80,"height":126,"title":{"text":"D1","dx":-4},"resolve":{"scale":{"xOffset":"independent"}},"encoding":{"x":{"field":"g","type":"nominal","title":null,"scale":{"domain":["CON","DS"],"paddingInner":0.16,"paddingOuter":0.1,"align":0.25}}},"layer":[
 {"data":{"name":"sm"},"transform":[{"filter":"datum.p=='D1'"}],"mark":{"type":"bar","fill":"white","strokeWidth":2},"encoding":{"y":{"field":"m","type":"quantitative","scale":{"domain":[0,1],"nice":false},"axis":{"values":[0,0.2,0.4,0.6,0.8,1],"format":".1f","title":"CpG1 % Methylation"}},"stroke":{"condition":{"test":"datum.g=='CON'","value":"#000000"},"value":"#b4b4b4"}}},
 {"data":{"name":"pts"},"transform":[{"filter":"datum.p=='D1'"}],"mark":{"type":"circle","size":34,"opacity":1,"clip":false},"encoding":{"xOffset":{"field":"k","type":"quantitative","scale":{"domain":[-5,5],"nice":false}},"y":{"field":"v","type":"quantitative","scale":{"domain":[0,1],"nice":false},"axis":{"values":[0,0.2,0.4,0.6,0.8,1],"format":".1f","title":"CpG1 % Methylation"}},"color":{"condition":{"test":"datum.g=='CON'","value":"#1e3ce6"},"value":"#5a96f0"}}}
]},
{"width":53,"height":126,"data":{"values":[]},"mark":"point"},
{"width":83,"height":126,"title":{"text":"D2","dx":13},"resolve":{"scale":{"xOffset":"independent"}},"encoding":{"x":{"field":"g","type":"nominal","title":null,"scale":{"domain":["CON","DS"],"paddingInner":0.16,"paddingOuter":0.1,"align":0.25}}},"layer":[
 {"data":{"name":"sm"},"transform":[{"filter":"datum.p=='D2'"}],"layer":[
  {"mark":{"type":"bar","fill":"white","strokeWidth":2},"encoding":{"y":{"field":"m","type":"quantitative","scale":{"domain":[0,15],"nice":false},"axis":{"values":[0,5,10,15],"title":"CpG2 % Methylation"}},"stroke":{"condition":{"test":"datum.g=='CON'","value":"#000000"},"value":"#b4b4b4"}}},
  {"mark":{"type":"rule","strokeWidth":2},"encoding":{"y":{"field":"lo","type":"quantitative","scale":{"domain":[0,15],"nice":false},"axis":{"values":[0,5,10,15],"title":"CpG2 % Methylation"}},"y2":{"field":"hi"},"color":{"condition":{"test":"datum.g=='CON'","value":"#5b962a"},"value":"#46969b"}}},
  {"mark":{"type":"tick","thickness":2,"size":18},"encoding":{"y":{"field":"hi","type":"quantitative","scale":{"domain":[0,15],"nice":false},"axis":{"values":[0,5,10,15],"title":"CpG2 % Methylation"}},"color":{"condition":{"test":"datum.g=='CON'","value":"#5b962a"},"value":"#46969b"}}},
  {"mark":{"type":"tick","thickness":2,"size":18},"encoding":{"y":{"field":"lo","type":"quantitative","scale":{"domain":[0,15],"nice":false},"axis":{"values":[0,5,10,15],"title":"CpG2 % Methylation"}},"color":{"condition":{"test":"datum.g=='CON'","value":"#5b962a"},"value":"#46969b"}}}
 ]},
 {"data":{"name":"pts"},"transform":[{"filter":"datum.p=='D2'"}],"mark":{"type":"circle","size":34,"opacity":1,"clip":false},"encoding":{"xOffset":{"field":"k","type":"quantitative","scale":{"domain":[-5,5],"nice":false}},"y":{"field":"v","type":"quantitative","scale":{"domain":[0,15],"nice":false},"axis":{"values":[0,5,10,15],"title":"CpG2 % Methylation"}},"color":{"condition":{"test":"datum.g=='CON'","value":"#5b962a"},"value":"#46969b"}}}
]},
{"width":69,"height":126,"data":{"values":[]},"mark":"point"},
{"width":78,"height":126,"title":{"text":"D3","dx":10},"resolve":{"scale":{"xOffset":"independent"}},"encoding":{"x":{"field":"g","type":"nominal","title":null,"scale":{"domain":["CON","DS"],"paddingInner":0.16,"paddingOuter":0.1,"align":0.25}}},"layer":[
 {"data":{"name":"sm"},"transform":[{"filter":"datum.p=='D3'"}],"layer":[
  {"mark":{"type":"bar","fill":"white","strokeWidth":2},"encoding":{"y":{"field":"m","type":"quantitative","scale":{"domain":[0,20],"nice":false},"axis":{"values":[0,5,10,15,20],"title":"CpG3 % Methylation"}},"stroke":{"condition":{"test":"datum.g=='CON'","value":"#000000"},"value":"#b4b4b4"}}},
  {"mark":{"type":"rule","strokeWidth":2},"encoding":{"y":{"field":"lo","type":"quantitative","scale":{"domain":[0,20],"nice":false},"axis":{"values":[0,5,10,15,20],"title":"CpG3 % Methylation"}},"y2":{"field":"hi"},"color":{"condition":{"test":"datum.g=='CON'","value":"#8c1a10"},"value":"#a0641e"}}},
  {"mark":{"type":"tick","thickness":2,"size":18},"encoding":{"y":{"field":"hi","type":"quantitative","scale":{"domain":[0,20],"nice":false},"axis":{"values":[0,5,10,15,20],"title":"CpG3 % Methylation"}},"color":{"condition":{"test":"datum.g=='CON'","value":"#8c1a10"},"value":"#a0641e"}}},
  {"mark":{"type":"tick","thickness":2,"size":18},"encoding":{"y":{"field":"lo","type":"quantitative","scale":{"domain":[0,20],"nice":false},"axis":{"values":[0,5,10,15,20],"title":"CpG3 % Methylation"}},"color":{"condition":{"test":"datum.g=='CON'","value":"#8c1a10"},"value":"#a0641e"}}}
 ]},
 {"data":{"name":"pts"},"transform":[{"filter":"datum.p=='D3'"}],"mark":{"type":"circle","size":34,"opacity":1,"clip":false},"encoding":{"xOffset":{"field":"k","type":"quantitative","scale":{"domain":[-5,5],"nice":false}},"y":{"field":"v","type":"quantitative","scale":{"domain":[0,20],"nice":false},"axis":{"values":[0,5,10,15,20],"title":"CpG3 % Methylation"}},"color":{"condition":{"test":"datum.g=='CON'","value":"#8c1a10"},"value":"#a0641e"}}}
]},
{"width":67,"height":126,"data":{"values":[]},"mark":"point"},
{"width":83,"height":126,"title":{"text":"D4","dx":15},"resolve":{"scale":{"xOffset":"independent"}},"encoding":{"x":{"field":"g","type":"nominal","title":null,"scale":{"domain":["CON","DS"],"paddingInner":0.16,"paddingOuter":0.1,"align":0.25}}},"layer":[
 {"data":{"name":"sm"},"transform":[{"filter":"datum.p=='D4'"}],"layer":[
  {"mark":{"type":"bar","fill":"white","strokeWidth":2},"encoding":{"y":{"field":"m","type":"quantitative","scale":{"domain":[0,15],"nice":false},"axis":{"values":[0,5,10,15],"title":"CpG4 % Methylation"}},"stroke":{"condition":{"test":"datum.g=='CON'","value":"#000000"},"value":"#b4b4b4"}}},
  {"mark":{"type":"rule","strokeWidth":2},"encoding":{"y":{"field":"lo","type":"quantitative","scale":{"domain":[0,15],"nice":false},"axis":{"values":[0,5,10,15],"title":"CpG4 % Methylation"}},"y2":{"field":"hi"},"color":{"condition":{"test":"datum.g=='CON'","value":"#821a46"},"value":"#8c32a0"}}},
  {"mark":{"type":"tick","thickness":2,"size":18},"encoding":{"y":{"field":"hi","type":"quantitative","scale":{"domain":[0,15],"nice":false},"axis":{"values":[0,5,10,15],"title":"CpG4 % Methylation"}},"color":{"condition":{"test":"datum.g=='CON'","value":"#821a46"},"value":"#8c32a0"}}},
  {"mark":{"type":"tick","thickness":2,"size":18},"encoding":{"y":{"field":"lo","type":"quantitative","scale":{"domain":[0,15],"nice":false},"axis":{"values":[0,5,10,15],"title":"CpG4 % Methylation"}},"color":{"condition":{"test":"datum.g=='CON'","value":"#821a46"},"value":"#8c32a0"}}}
 ]},
 {"data":{"name":"pts"},"transform":[{"filter":"datum.p=='D4'"}],"mark":{"type":"circle","size":34,"opacity":1,"clip":false},"encoding":{"xOffset":{"field":"k","type":"quantitative","scale":{"domain":[-5,5],"nice":false}},"y":{"field":"v","type":"quantitative","scale":{"domain":[0,15],"nice":false},"axis":{"values":[0,5,10,15],"title":"CpG4 % Methylation"}},"color":{"condition":{"test":"datum.g=='CON'","value":"#821a46"},"value":"#8c32a0"}}}
]}
],"spacing":0,"bounds":"flush","resolve":{"scale":{"xOffset":"independent"}}}
]},
{"spacing":4,"resolve":{"scale":{"xOffset":"independent"}},"vconcat":[
{"hconcat":[
{"width":51,"height":126,"data":{"values":[{"r":0}]},"mark":{"type":"point","opacity":0},"encoding":{"y":{"field":"r","type":"quantitative","scale":{"domain":[0,1],"range":[154,-13]},"axis":{"values":[0,1],"labels":false,"tickSize":-7,"title":"MALES","titleFontSize":16,"titleFontWeight":"bold","titleX":-10,"titleY":58,"titleAngle":-90,"titleAlign":"center","titleBaseline":"middle"}}}},
{"width":89,"height":126,"title":{"text":"E","dx":-5},"resolve":{"scale":{"xOffset":"independent"}},"encoding":{"x":{"field":"g","type":"nominal","title":null,"scale":{"domain":["CON","DS"],"paddingInner":0.16,"paddingOuter":0.1,"align":0.25}}},"layer":[
 {"data":{"name":"bx"},"transform":[{"filter":"datum.p=='E'"}],"layer":[
  {"mark":{"type":"rule","strokeWidth":2},"encoding":{"y":{"field":"lo","type":"quantitative","scale":{"domain":[0,2],"nice":false},"axis":{"values":[0,0.5,1,1.5,2],"format":".1f","title":"GALR2 (Fold Change)","titleFontStyle":"italic"}},"y2":{"field":"hi"},"color":{"condition":{"test":"datum.g=='CON'","value":"#7a9a2e"},"value":"#2846dc"}}},
  {"mark":{"type":"bar","fill":"white","strokeWidth":2},"encoding":{"y":{"field":"q1","type":"quantitative","scale":{"domain":[0,2],"nice":false},"axis":{"values":[0,0.5,1,1.5,2],"format":".1f","title":"GALR2 (Fold Change)","titleFontStyle":"italic"}},"y2":{"field":"q3"},"stroke":{"condition":{"test":"datum.g=='CON'","value":"#7a9a2e"},"value":"#2846dc"}}},
  {"mark":{"type":"tick","thickness":2,"size":37},"encoding":{"y":{"field":"md","type":"quantitative","scale":{"domain":[0,2],"nice":false},"axis":{"values":[0,0.5,1,1.5,2],"format":".1f","title":"GALR2 (Fold Change)","titleFontStyle":"italic"}},"color":{"condition":{"test":"datum.g=='CON'","value":"#7a9a2e"},"value":"#2846dc"}}},
  {"mark":{"type":"tick","thickness":2,"size":22},"encoding":{"y":{"field":"hi","type":"quantitative","scale":{"domain":[0,2],"nice":false},"axis":{"values":[0,0.5,1,1.5,2],"format":".1f","title":"GALR2 (Fold Change)","titleFontStyle":"italic"}},"color":{"condition":{"test":"datum.g=='CON'","value":"#7a9a2e"},"value":"#2846dc"}}},
  {"mark":{"type":"tick","thickness":2,"size":22},"encoding":{"y":{"field":"lo","type":"quantitative","scale":{"domain":[0,2],"nice":false},"axis":{"values":[0,0.5,1,1.5,2],"format":".1f","title":"GALR2 (Fold Change)","titleFontStyle":"italic"}},"color":{"condition":{"test":"datum.g=='CON'","value":"#7a9a2e"},"value":"#2846dc"}}}
 ]},
 {"data":{"name":"pts"},"transform":[{"filter":"datum.p=='E'"}],"mark":{"type":"circle","size":64,"opacity":1,"color":"#c3c3c3","clip":false},"encoding":{"xOffset":{"field":"k","type":"quantitative","scale":{"domain":[-5,5],"nice":false}},"y":{"field":"v","type":"quantitative","scale":{"domain":[0,2],"nice":false},"axis":{"values":[0,0.5,1,1.5,2],"format":".1f","title":"GALR2 (Fold Change)","titleFontStyle":"italic"}}}}
]},
{"width":61,"height":126,"data":{"values":[]},"mark":"point"},
{"width":84,"height":126,"title":{"text":"F1","dx":0},"resolve":{"scale":{"xOffset":"independent"}},"encoding":{"x":{"field":"g","type":"nominal","title":null,"scale":{"domain":["CON","DS"],"paddingInner":0.16,"paddingOuter":0.1,"align":0.25}}},"layer":[
 {"data":{"name":"sm"},"transform":[{"filter":"datum.p=='F1'"}],"layer":[
  {"mark":{"type":"bar","fill":"white","strokeWidth":2},"encoding":{"y":{"field":"m","type":"quantitative","scale":{"domain":[0,2],"nice":false},"axis":{"values":[0,0.5,1,1.5,2],"format":".1f","title":"CpG1 % Methylation"}},"stroke":{"condition":{"test":"datum.g=='CON'","value":"#000000"},"value":"#b4b4b4"}}},
  {"mark":{"type":"rule","strokeWidth":2},"encoding":{"y":{"field":"lo","type":"quantitative","scale":{"domain":[0,2],"nice":false},"axis":{"values":[0,0.5,1,1.5,2],"format":".1f","title":"CpG1 % Methylation"}},"y2":{"field":"hi"},"color":{"condition":{"test":"datum.g=='CON'","value":"#1e3ce6"},"value":"#5a96f0"}}},
  {"mark":{"type":"tick","thickness":2,"size":18},"encoding":{"y":{"field":"hi","type":"quantitative","scale":{"domain":[0,2],"nice":false},"axis":{"values":[0,0.5,1,1.5,2],"format":".1f","title":"CpG1 % Methylation"}},"color":{"condition":{"test":"datum.g=='CON'","value":"#1e3ce6"},"value":"#5a96f0"}}},
  {"mark":{"type":"tick","thickness":2,"size":18},"encoding":{"y":{"field":"lo","type":"quantitative","scale":{"domain":[0,2],"nice":false},"axis":{"values":[0,0.5,1,1.5,2],"format":".1f","title":"CpG1 % Methylation"}},"color":{"condition":{"test":"datum.g=='CON'","value":"#1e3ce6"},"value":"#5a96f0"}}}
 ]},
 {"data":{"name":"pts"},"transform":[{"filter":"datum.p=='F1'"}],"mark":{"type":"circle","size":34,"opacity":1,"clip":false},"encoding":{"xOffset":{"field":"k","type":"quantitative","scale":{"domain":[-5,5],"nice":false}},"y":{"field":"v","type":"quantitative","scale":{"domain":[0,2],"nice":false},"axis":{"values":[0,0.5,1,1.5,2],"format":".1f","title":"CpG1 % Methylation"}},"color":{"condition":{"test":"datum.g=='CON'","value":"#1e3ce6"},"value":"#5a96f0"}}}
]},
{"width":53,"height":126,"data":{"values":[]},"mark":"point"},
{"width":80,"height":126,"title":{"text":"F2","dx":21},"resolve":{"scale":{"xOffset":"independent"}},"encoding":{"x":{"field":"g","type":"nominal","title":null,"scale":{"domain":["CON","DS"],"paddingInner":0.16,"paddingOuter":0.1,"align":0.25}}},"layer":[
 {"data":{"name":"sm"},"transform":[{"filter":"datum.p=='F2'"}],"layer":[
  {"mark":{"type":"bar","fill":"white","strokeWidth":2},"encoding":{"y":{"field":"m","type":"quantitative","scale":{"domain":[0,6],"nice":false},"axis":{"values":[0,2,4,6],"title":"CpG2 % Methylation"}},"stroke":{"condition":{"test":"datum.g=='CON'","value":"#000000"},"value":"#b4b4b4"}}},
  {"mark":{"type":"rule","strokeWidth":2},"encoding":{"y":{"field":"lo","type":"quantitative","scale":{"domain":[0,6],"nice":false},"axis":{"values":[0,2,4,6],"title":"CpG2 % Methylation"}},"y2":{"field":"hi"},"color":{"condition":{"test":"datum.g=='CON'","value":"#5b962a"},"value":"#46969b"}}},
  {"mark":{"type":"tick","thickness":2,"size":18},"encoding":{"y":{"field":"hi","type":"quantitative","scale":{"domain":[0,6],"nice":false},"axis":{"values":[0,2,4,6],"title":"CpG2 % Methylation"}},"color":{"condition":{"test":"datum.g=='CON'","value":"#5b962a"},"value":"#46969b"}}},
  {"mark":{"type":"tick","thickness":2,"size":18},"encoding":{"y":{"field":"lo","type":"quantitative","scale":{"domain":[0,6],"nice":false},"axis":{"values":[0,2,4,6],"title":"CpG2 % Methylation"}},"color":{"condition":{"test":"datum.g=='CON'","value":"#5b962a"},"value":"#46969b"}}}
 ]},
 {"data":{"name":"pts"},"transform":[{"filter":"datum.p=='F2'"}],"mark":{"type":"circle","size":34,"opacity":1,"clip":false},"encoding":{"xOffset":{"field":"k","type":"quantitative","scale":{"domain":[-5,5],"nice":false}},"y":{"field":"v","type":"quantitative","scale":{"domain":[0,6],"nice":false},"axis":{"values":[0,2,4,6],"title":"CpG2 % Methylation"}},"color":{"condition":{"test":"datum.g=='CON'","value":"#5b962a"},"value":"#46969b"}}}
]},
{"width":62,"height":126,"data":{"values":[]},"mark":"point"},
{"width":81,"height":126,"title":{"text":"F3","dx":24},"resolve":{"scale":{"xOffset":"independent"}},"encoding":{"x":{"field":"g","type":"nominal","title":null,"scale":{"domain":["CON","DS"],"paddingInner":0.16,"paddingOuter":0.1,"align":0.25}}},"layer":[
 {"data":{"name":"sm"},"transform":[{"filter":"datum.p=='F3'"}],"layer":[
  {"mark":{"type":"bar","fill":"white","strokeWidth":2},"encoding":{"y":{"field":"m","type":"quantitative","scale":{"domain":[0,3],"nice":false},"axis":{"values":[0,1,2,3],"title":"CpG3 % Methylation"}},"stroke":{"condition":{"test":"datum.g=='CON'","value":"#000000"},"value":"#b4b4b4"}}},
  {"mark":{"type":"rule","strokeWidth":2},"encoding":{"y":{"field":"lo","type":"quantitative","scale":{"domain":[0,3],"nice":false},"axis":{"values":[0,1,2,3],"title":"CpG3 % Methylation"}},"y2":{"field":"hi"},"color":{"condition":{"test":"datum.g=='CON'","value":"#8c1a10"},"value":"#a0641e"}}},
  {"mark":{"type":"tick","thickness":2,"size":18},"encoding":{"y":{"field":"hi","type":"quantitative","scale":{"domain":[0,3],"nice":false},"axis":{"values":[0,1,2,3],"title":"CpG3 % Methylation"}},"color":{"condition":{"test":"datum.g=='CON'","value":"#8c1a10"},"value":"#a0641e"}}},
  {"mark":{"type":"tick","thickness":2,"size":18},"encoding":{"y":{"field":"lo","type":"quantitative","scale":{"domain":[0,3],"nice":false},"axis":{"values":[0,1,2,3],"title":"CpG3 % Methylation"}},"color":{"condition":{"test":"datum.g=='CON'","value":"#8c1a10"},"value":"#a0641e"}}}
 ]},
 {"data":{"name":"pts"},"transform":[{"filter":"datum.p=='F3'"}],"mark":{"type":"circle","size":34,"opacity":1,"clip":false},"encoding":{"xOffset":{"field":"k","type":"quantitative","scale":{"domain":[-5,5],"nice":false}},"y":{"field":"v","type":"quantitative","scale":{"domain":[0,3],"nice":false},"axis":{"values":[0,1,2,3],"title":"CpG3 % Methylation"}},"color":{"condition":{"test":"datum.g=='CON'","value":"#8c1a10"},"value":"#a0641e"}}}
]},
{"width":75,"height":126,"data":{"values":[]},"mark":"point"},
{"width":82,"height":126,"title":{"text":"F4","dx":20},"resolve":{"scale":{"xOffset":"independent"}},"encoding":{"x":{"field":"g","type":"nominal","title":null,"scale":{"domain":["CON","DS"],"paddingInner":0.16,"paddingOuter":0.1,"align":0.25}}},"layer":[
 {"data":{"name":"sm"},"transform":[{"filter":"datum.p=='F4'"}],"layer":[
  {"mark":{"type":"bar","fill":"white","strokeWidth":2},"encoding":{"y":{"field":"m","type":"quantitative","scale":{"domain":[0,4],"nice":false},"axis":{"values":[0,1,2,3,4],"title":"CpG4 % Methylation"}},"stroke":{"condition":{"test":"datum.g=='CON'","value":"#000000"},"value":"#b4b4b4"}}},
  {"mark":{"type":"rule","strokeWidth":2},"encoding":{"y":{"field":"lo","type":"quantitative","scale":{"domain":[0,4],"nice":false},"axis":{"values":[0,1,2,3,4],"title":"CpG4 % Methylation"}},"y2":{"field":"hi"},"color":{"condition":{"test":"datum.g=='CON'","value":"#821a46"},"value":"#8c32a0"}}},
  {"mark":{"type":"tick","thickness":2,"size":18},"encoding":{"y":{"field":"hi","type":"quantitative","scale":{"domain":[0,4],"nice":false},"axis":{"values":[0,1,2,3,4],"title":"CpG4 % Methylation"}},"color":{"condition":{"test":"datum.g=='CON'","value":"#821a46"},"value":"#8c32a0"}}},
  {"mark":{"type":"tick","thickness":2,"size":18},"encoding":{"y":{"field":"lo","type":"quantitative","scale":{"domain":[0,4],"nice":false},"axis":{"values":[0,1,2,3,4],"title":"CpG4 % Methylation"}},"color":{"condition":{"test":"datum.g=='CON'","value":"#821a46"},"value":"#8c32a0"}}}
 ]},
 {"data":{"name":"pts"},"transform":[{"filter":"datum.p=='F4'"}],"mark":{"type":"circle","size":34,"opacity":1,"clip":false},"encoding":{"xOffset":{"field":"k","type":"quantitative","scale":{"domain":[-5,5],"nice":false}},"y":{"field":"v","type":"quantitative","scale":{"domain":[0,4],"nice":false},"axis":{"values":[0,1,2,3,4],"title":"CpG4 % Methylation"}},"color":{"condition":{"test":"datum.g=='CON'","value":"#821a46"},"value":"#8c32a0"}}}
]}
],"spacing":0,"bounds":"flush","resolve":{"scale":{"xOffset":"independent"}}},
{"hconcat":[
{"width":40,"height":126,"data":{"values":[{"r":0}]},"mark":{"type":"point","opacity":0},"encoding":{"y":{"field":"r","type":"quantitative","scale":{"domain":[0,1],"range":[150,-13]},"axis":{"values":[0,1],"labels":false,"tickSize":-7,"title":"FEMALES","titleFontSize":16,"titleFontWeight":"bold","titleX":-10,"titleY":58,"titleAngle":-90,"titleAlign":"center","titleBaseline":"middle"}}}},
{"width":90,"height":126,"title":{"text":"G","dx":4},"resolve":{"scale":{"xOffset":"independent"}},"encoding":{"x":{"field":"g","type":"nominal","title":null,"scale":{"domain":["CON","DS"],"paddingInner":0.16,"paddingOuter":0.1,"align":0.25}}},"layer":[
 {"data":{"name":"bx"},"transform":[{"filter":"datum.p=='G'"}],"layer":[
  {"mark":{"type":"rule","strokeWidth":2},"encoding":{"y":{"field":"lo","type":"quantitative","scale":{"domain":[0,3],"nice":false},"axis":{"values":[0,1,2,3],"title":"GALR2 (Fold Change)","titleFontStyle":"italic"}},"y2":{"field":"hi"},"color":{"condition":{"test":"datum.g=='CON'","value":"#7a9a2e"},"value":"#2846dc"}}},
  {"mark":{"type":"bar","fill":"white","strokeWidth":2},"encoding":{"y":{"field":"q1","type":"quantitative","scale":{"domain":[0,3],"nice":false},"axis":{"values":[0,1,2,3],"title":"GALR2 (Fold Change)","titleFontStyle":"italic"}},"y2":{"field":"q3"},"stroke":{"condition":{"test":"datum.g=='CON'","value":"#7a9a2e"},"value":"#2846dc"}}},
  {"mark":{"type":"tick","thickness":2,"size":37},"encoding":{"y":{"field":"md","type":"quantitative","scale":{"domain":[0,3],"nice":false},"axis":{"values":[0,1,2,3],"title":"GALR2 (Fold Change)","titleFontStyle":"italic"}},"color":{"condition":{"test":"datum.g=='CON'","value":"#7a9a2e"},"value":"#2846dc"}}},
  {"mark":{"type":"tick","thickness":2,"size":22},"encoding":{"y":{"field":"hi","type":"quantitative","scale":{"domain":[0,3],"nice":false},"axis":{"values":[0,1,2,3],"title":"GALR2 (Fold Change)","titleFontStyle":"italic"}},"color":{"condition":{"test":"datum.g=='CON'","value":"#7a9a2e"},"value":"#2846dc"}}},
  {"mark":{"type":"tick","thickness":2,"size":22},"encoding":{"y":{"field":"lo","type":"quantitative","scale":{"domain":[0,3],"nice":false},"axis":{"values":[0,1,2,3],"title":"GALR2 (Fold Change)","titleFontStyle":"italic"}},"color":{"condition":{"test":"datum.g=='CON'","value":"#7a9a2e"},"value":"#2846dc"}}}
 ]},
 {"data":{"name":"pts"},"transform":[{"filter":"datum.p=='G'"}],"mark":{"type":"circle","size":64,"opacity":1,"color":"#c3c3c3","clip":false},"encoding":{"xOffset":{"field":"k","type":"quantitative","scale":{"domain":[-5,5],"nice":false}},"y":{"field":"v","type":"quantitative","scale":{"domain":[0,3],"nice":false},"axis":{"values":[0,1,2,3],"title":"GALR2 (Fold Change)","titleFontStyle":"italic"}}}}
]},
{"width":65,"height":126,"data":{"values":[]},"mark":"point"},
{"width":84,"height":126,"title":{"text":"H1","dx":6},"resolve":{"scale":{"xOffset":"independent"}},"encoding":{"x":{"field":"g","type":"nominal","title":null,"scale":{"domain":["CON","DS"],"paddingInner":0.16,"paddingOuter":0.1,"align":0.25}}},"layer":[
 {"data":{"name":"sm"},"transform":[{"filter":"datum.p=='H1'"}],"layer":[
  {"mark":{"type":"bar","fill":"white","strokeWidth":2},"encoding":{"y":{"field":"m","type":"quantitative","scale":{"domain":[0,3],"nice":false},"axis":{"values":[0,1,2,3],"title":"CpG1 % Methylation"}},"stroke":{"condition":{"test":"datum.g=='CON'","value":"#000000"},"value":"#b4b4b4"}}},
  {"mark":{"type":"rule","strokeWidth":2},"encoding":{"y":{"field":"lo","type":"quantitative","scale":{"domain":[0,3],"nice":false},"axis":{"values":[0,1,2,3],"title":"CpG1 % Methylation"}},"y2":{"field":"hi"},"color":{"condition":{"test":"datum.g=='CON'","value":"#1e3ce6"},"value":"#5a96f0"}}},
  {"mark":{"type":"tick","thickness":2,"size":18},"encoding":{"y":{"field":"hi","type":"quantitative","scale":{"domain":[0,3],"nice":false},"axis":{"values":[0,1,2,3],"title":"CpG1 % Methylation"}},"color":{"condition":{"test":"datum.g=='CON'","value":"#1e3ce6"},"value":"#5a96f0"}}},
  {"mark":{"type":"tick","thickness":2,"size":18},"encoding":{"y":{"field":"lo","type":"quantitative","scale":{"domain":[0,3],"nice":false},"axis":{"values":[0,1,2,3],"title":"CpG1 % Methylation"}},"color":{"condition":{"test":"datum.g=='CON'","value":"#1e3ce6"},"value":"#5a96f0"}}}
 ]},
 {"data":{"name":"pts"},"transform":[{"filter":"datum.p=='H1'"}],"mark":{"type":"circle","size":34,"opacity":1,"clip":false},"encoding":{"xOffset":{"field":"k","type":"quantitative","scale":{"domain":[-5,5],"nice":false}},"y":{"field":"v","type":"quantitative","scale":{"domain":[0,3],"nice":false},"axis":{"values":[0,1,2,3],"title":"CpG1 % Methylation"}},"color":{"condition":{"test":"datum.g=='CON'","value":"#1e3ce6"},"value":"#5a96f0"}}}
]},
{"width":61,"height":126,"data":{"values":[]},"mark":"point"},
{"width":82,"height":126,"title":{"text":"H2","dx":16},"resolve":{"scale":{"xOffset":"independent"}},"encoding":{"x":{"field":"g","type":"nominal","title":null,"scale":{"domain":["CON","DS"],"paddingInner":0.16,"paddingOuter":0.1,"align":0.25}}},"layer":[
 {"data":{"name":"sm"},"transform":[{"filter":"datum.p=='H2'"}],"layer":[
  {"mark":{"type":"bar","fill":"white","strokeWidth":2},"encoding":{"y":{"field":"m","type":"quantitative","scale":{"domain":[0,6],"nice":false},"axis":{"values":[0,2,4,6],"title":"CpG2 % Methylation"}},"stroke":{"condition":{"test":"datum.g=='CON'","value":"#000000"},"value":"#b4b4b4"}}},
  {"mark":{"type":"rule","strokeWidth":2},"encoding":{"y":{"field":"lo","type":"quantitative","scale":{"domain":[0,6],"nice":false},"axis":{"values":[0,2,4,6],"title":"CpG2 % Methylation"}},"y2":{"field":"hi"},"color":{"condition":{"test":"datum.g=='CON'","value":"#5b962a"},"value":"#46969b"}}},
  {"mark":{"type":"tick","thickness":2,"size":18},"encoding":{"y":{"field":"hi","type":"quantitative","scale":{"domain":[0,6],"nice":false},"axis":{"values":[0,2,4,6],"title":"CpG2 % Methylation"}},"color":{"condition":{"test":"datum.g=='CON'","value":"#5b962a"},"value":"#46969b"}}},
  {"mark":{"type":"tick","thickness":2,"size":18},"encoding":{"y":{"field":"lo","type":"quantitative","scale":{"domain":[0,6],"nice":false},"axis":{"values":[0,2,4,6],"title":"CpG2 % Methylation"}},"color":{"condition":{"test":"datum.g=='CON'","value":"#5b962a"},"value":"#46969b"}}}
 ]},
 {"data":{"name":"pts"},"transform":[{"filter":"datum.p=='H2'"}],"mark":{"type":"circle","size":34,"opacity":1,"clip":false},"encoding":{"xOffset":{"field":"k","type":"quantitative","scale":{"domain":[-5,5],"nice":false}},"y":{"field":"v","type":"quantitative","scale":{"domain":[0,6],"nice":false},"axis":{"values":[0,2,4,6],"title":"CpG2 % Methylation"}},"color":{"condition":{"test":"datum.g=='CON'","value":"#5b962a"},"value":"#46969b"}}}
]},
{"width":61,"height":126,"data":{"values":[]},"mark":"point"},
{"width":81,"height":126,"title":{"text":"H3","dx":20},"resolve":{"scale":{"xOffset":"independent"}},"encoding":{"x":{"field":"g","type":"nominal","title":null,"scale":{"domain":["CON","DS"],"paddingInner":0.16,"paddingOuter":0.1,"align":0.25}}},"layer":[
 {"data":{"name":"sm"},"transform":[{"filter":"datum.p=='H3'"}],"layer":[
  {"mark":{"type":"bar","fill":"white","strokeWidth":2},"encoding":{"y":{"field":"m","type":"quantitative","scale":{"domain":[0,3],"nice":false},"axis":{"values":[0,1,2,3],"title":"CpG3 % Methylation"}},"stroke":{"condition":{"test":"datum.g=='CON'","value":"#000000"},"value":"#b4b4b4"}}},
  {"mark":{"type":"rule","strokeWidth":2},"encoding":{"y":{"field":"lo","type":"quantitative","scale":{"domain":[0,3],"nice":false},"axis":{"values":[0,1,2,3],"title":"CpG3 % Methylation"}},"y2":{"field":"hi"},"color":{"condition":{"test":"datum.g=='CON'","value":"#8c1a10"},"value":"#a0641e"}}},
  {"mark":{"type":"tick","thickness":2,"size":18},"encoding":{"y":{"field":"hi","type":"quantitative","scale":{"domain":[0,3],"nice":false},"axis":{"values":[0,1,2,3],"title":"CpG3 % Methylation"}},"color":{"condition":{"test":"datum.g=='CON'","value":"#8c1a10"},"value":"#a0641e"}}},
  {"mark":{"type":"tick","thickness":2,"size":18},"encoding":{"y":{"field":"lo","type":"quantitative","scale":{"domain":[0,3],"nice":false},"axis":{"values":[0,1,2,3],"title":"CpG3 % Methylation"}},"color":{"condition":{"test":"datum.g=='CON'","value":"#8c1a10"},"value":"#a0641e"}}}
 ]},
 {"data":{"name":"pts"},"transform":[{"filter":"datum.p=='H3'"}],"mark":{"type":"circle","size":34,"opacity":1,"clip":false},"encoding":{"xOffset":{"field":"k","type":"quantitative","scale":{"domain":[-5,5],"nice":false}},"y":{"field":"v","type":"quantitative","scale":{"domain":[0,3],"nice":false},"axis":{"values":[0,1,2,3],"title":"CpG3 % Methylation"}},"color":{"condition":{"test":"datum.g=='CON'","value":"#8c1a10"},"value":"#a0641e"}}}
]},
{"width":72,"height":126,"data":{"values":[]},"mark":"point"},
{"width":82,"height":126,"title":{"text":"H4","dx":20},"resolve":{"scale":{"xOffset":"independent"}},"encoding":{"x":{"field":"g","type":"nominal","title":null,"scale":{"domain":["CON","DS"],"paddingInner":0.16,"paddingOuter":0.1,"align":0.25}}},"layer":[
 {"data":{"name":"sm"},"transform":[{"filter":"datum.p=='H4'"}],"layer":[
  {"mark":{"type":"bar","fill":"white","strokeWidth":2},"encoding":{"y":{"field":"m","type":"quantitative","scale":{"domain":[0,3],"nice":false},"axis":{"values":[0,1,2,3],"title":"CpG4 % Methylation"}},"stroke":{"condition":{"test":"datum.g=='CON'","value":"#000000"},"value":"#b4b4b4"}}},
  {"mark":{"type":"rule","strokeWidth":2},"encoding":{"y":{"field":"lo","type":"quantitative","scale":{"domain":[0,3],"nice":false},"axis":{"values":[0,1,2,3],"title":"CpG4 % Methylation"}},"y2":{"field":"hi"},"color":{"condition":{"test":"datum.g=='CON'","value":"#821a46"},"value":"#8c32a0"}}},
  {"mark":{"type":"tick","thickness":2,"size":18},"encoding":{"y":{"field":"hi","type":"quantitative","scale":{"domain":[0,3],"nice":false},"axis":{"values":[0,1,2,3],"title":"CpG4 % Methylation"}},"color":{"condition":{"test":"datum.g=='CON'","value":"#821a46"},"value":"#8c32a0"}}},
  {"mark":{"type":"tick","thickness":2,"size":18},"encoding":{"y":{"field":"lo","type":"quantitative","scale":{"domain":[0,3],"nice":false},"axis":{"values":[0,1,2,3],"title":"CpG4 % Methylation"}},"color":{"condition":{"test":"datum.g=='CON'","value":"#821a46"},"value":"#8c32a0"}}}
 ]},
 {"data":{"name":"pts"},"transform":[{"filter":"datum.p=='H4'"}],"mark":{"type":"circle","size":34,"opacity":1,"clip":false},"encoding":{"xOffset":{"field":"k","type":"quantitative","scale":{"domain":[-5,5],"nice":false}},"y":{"field":"v","type":"quantitative","scale":{"domain":[0,3],"nice":false},"axis":{"values":[0,1,2,3],"title":"CpG4 % Methylation"}},"color":{"condition":{"test":"datum.g=='CON'","value":"#821a46"},"value":"#8c32a0"}}}
]}
],"spacing":0,"bounds":"flush","resolve":{"scale":{"xOffset":"independent"}}}
]}
]
}
